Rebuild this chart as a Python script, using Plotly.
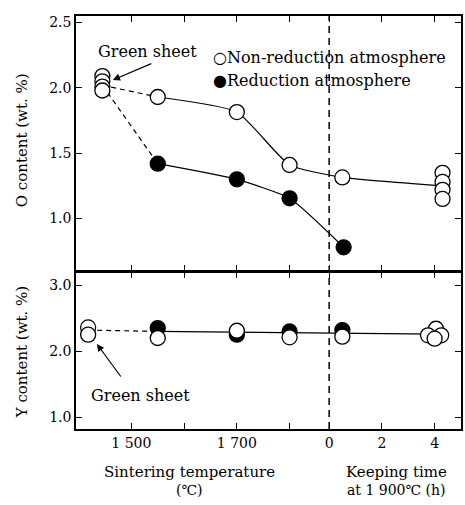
import plotly.graph_objects as go

# ---------------- data ----------------
temp_ticks = [1500, 1600, 1700, 1800]
temp_tick_labels = ["1 500", "", "1 700", ""]
time_ticks = [0, 2, 4]
time_tick_labels = ["0", "2", "4"]

# O content (wt.%)
green_O_temp = 1445
green_O = [2.09, 2.05, 2.01, 1.98]
green_O_link = 2.02
nonred_O_temp = [1550, 1700, 1800]
nonred_O_temp_val = [1.93, 1.815, 1.41]
nonred_O_time = [0.5]
nonred_O_time_val = [1.315]
nonred_O_4h_time = 4.3
nonred_O_4h = [1.35, 1.28, 1.22, 1.15]
nonred_O_4h_line = 1.25
red_O_temp = [1550, 1700, 1800]
red_O_temp_val = [1.42, 1.30, 1.155]
red_O_time = [0.55]
red_O_time_val = [0.78]

# Y content (wt.%)
green_Y_temp = 1418
green_Y = [2.36, 2.25]
green_Y_link = 2.32
nonred_Y_temp = [1550, 1700, 1800]
nonred_Y_temp_val = [2.20, 2.31, 2.21]
nonred_Y_time = [0.5, 4.05, 3.75, 4.25, 4.0]
nonred_Y_time_val = [2.22, 2.34, 2.24, 2.24, 2.19]
red_Y_temp = [1550, 1700, 1800]
red_Y_temp_val = [2.35, 2.25, 2.30]
red_Y_time = [0.5]
red_Y_time_val = [2.32]
Y_line_start = (1550, 2.30)
Y_line_end = (4.0, 2.26)

# ------------- combined x axis: temperature, then keeping time -------------
T0 = 1875      # axis position of 0 h
HS = 50        # axis units per hour
def tpos(h):
    return T0 + HS * h

XR = [1395, 2125]
W, H = 465, 505
ML, MR, MT, MB = 76, 2, 16, 76
PW, PH = W - ML - MR, H - MT - MB

def px(xp):
    return (xp - ML) / PW
def py(yp):
    return (H - MB - yp) / PH

FONT = "DejaVu Serif"
BLACK = "black"
OPEN = dict(symbol="circle", size=15, color="white", line=dict(color=BLACK, width=1.3))
FILL = dict(symbol="circle", size=15, color=BLACK, line=dict(color=BLACK, width=1.3))
LINE = dict(color=BLACK, width=1.2)
DLINE = dict(color=BLACK, width=1.2, dash="5px,4px")

fig = go.Figure()

# ---- top panel (O content) ----
fig.add_trace(go.Scatter(x=[green_O_temp, nonred_O_temp[0]], y=[green_O_link, nonred_O_temp_val[0]],
                         mode="lines", line=DLINE, xaxis="x", yaxis="y"))
fig.add_trace(go.Scatter(x=[green_O_temp, red_O_temp[0]], y=[green_O_link, red_O_temp_val[0]],
                         mode="lines", line=DLINE, xaxis="x", yaxis="y"))
fig.add_trace(go.Scatter(x=nonred_O_temp + [tpos(h) for h in nonred_O_time] + [tpos(nonred_O_4h_time)],
                         y=nonred_O_temp_val + nonred_O_time_val + [nonred_O_4h_line],
                         mode="lines", line=dict(LINE, shape="spline", smoothing=0.5), xaxis="x", yaxis="y"))
fig.add_trace(go.Scatter(x=red_O_temp + [tpos(h) for h in red_O_time],
                         y=red_O_temp_val + red_O_time_val,
                         mode="lines", line=dict(LINE, shape="spline", smoothing=0.5), xaxis="x", yaxis="y"))
fig.add_trace(go.Scatter(x=red_O_temp + [tpos(h) for h in red_O_time], y=red_O_temp_val + red_O_time_val,
                         mode="markers", marker=FILL, xaxis="x", yaxis="y"))
fig.add_trace(go.Scatter(x=[green_O_temp] * len(green_O), y=green_O,
                         mode="markers", marker=OPEN, xaxis="x", yaxis="y"))
fig.add_trace(go.Scatter(x=nonred_O_temp + [tpos(h) for h in nonred_O_time],
                         y=nonred_O_temp_val + nonred_O_time_val,
                         mode="markers", marker=OPEN, xaxis="x", yaxis="y"))
fig.add_trace(go.Scatter(x=[tpos(nonred_O_4h_time)] * len(nonred_O_4h), y=nonred_O_4h,
                         mode="markers", marker=OPEN, xaxis="x", yaxis="y"))

# ---- bottom panel (Y content) ----
fig.add_trace(go.Scatter(x=[green_Y_temp, Y_line_start[0]], y=[green_Y_link, Y_line_start[1]],
                         mode="lines", line=DLINE, xaxis="x2", yaxis="y2"))
fig.add_trace(go.Scatter(x=[Y_line_start[0], tpos(Y_line_end[0])], y=[Y_line_start[1], Y_line_end[1]],
                         mode="lines", line=LINE, xaxis="x2", yaxis="y2"))
fig.add_trace(go.Scatter(x=red_Y_temp + [tpos(h) for h in red_Y_time], y=red_Y_temp_val + red_Y_time_val,
                         mode="markers", marker=FILL, xaxis="x2", yaxis="y2"))
fig.add_trace(go.Scatter(x=[green_Y_temp] * len(green_Y), y=green_Y,
                         mode="markers", marker=OPEN, xaxis="x2", yaxis="y2"))
fig.add_trace(go.Scatter(x=nonred_Y_temp + [tpos(h) for h in nonred_Y_time],
                         y=nonred_Y_temp_val + nonred_Y_time_val,
                         mode="markers", marker=OPEN, xaxis="x2", yaxis="y2"))

tickvals = temp_ticks + [tpos(h) for h in time_ticks]
ticktext = temp_tick_labels + time_tick_labels
axis_common = dict(showline=True, linecolor=BLACK, linewidth=1.5, mirror="ticks",
                   ticks="inside", ticklen=6, tickwidth=1.2, tickcolor=BLACK,
                   showgrid=False, zeroline=False,
                   tickfont=dict(family=FONT, size=14, color=BLACK))

fig.update_layout(
    width=W, height=H, margin=dict(l=ML, r=MR, t=MT, b=MB),
    paper_bgcolor="white", plot_bgcolor="white", showlegend=False,
    font=dict(family=FONT, size=15, color=BLACK),
    xaxis=dict(axis_common, range=XR, domain=[0, 1], anchor="y", tickvals=tickvals,
               ticktext=ticktext, showticklabels=False),
    yaxis=dict(axis_common, range=[0.6, 2.55], domain=[0.383, 1], anchor="x",
               tickvals=[1.0, 1.5, 2.0, 2.5], ticktext=["1.0", "1.5", "2.0", "2.5"]),
    xaxis2=dict(axis_common, range=XR, domain=[0, 1], anchor="y2", tickvals=tickvals,
                ticktext=ticktext),
    yaxis2=dict(axis_common, range=[0.82, 3.2], domain=[0, 0.38], anchor="x2",
                tickvals=[1.0, 2.0, 3.0], ticktext=["1.0", "2.0", "3.0"]),
)

# dashed separator at 0 h
fig.add_shape(type="line", xref="x", yref="paper", x0=tpos(0), x1=tpos(0), y0=0, y1=1,
              line=dict(color=BLACK, width=1.5, dash="7px,5px"))

ann = []
def text(x, y, s, xanchor="center", size=16, angle=0, xref="paper", yref="paper"):
    ann.append(dict(x=x, y=y, xref=xref, yref=yref, text=s, showarrow=False,
                    xanchor=xanchor, yanchor="middle", textangle=angle,
                    font=dict(family=FONT, size=size, color=BLACK)))

# legend-like labels
text(px(212), py(58), "○Non-reduction atmosphere", xanchor="left")
text(px(212), py(81), "●Reduction atmosphere", xanchor="left")
# Green sheet labels
text(px(148), py(51), "Green sheet")
text(px(141), py(395), "Green sheet")
# axis titles
text(px(190), py(472), "Sintering temperature", size=15)
text(px(190), py(490), "(℃)", size=14)
text(px(398), py(472), "Keeping time", size=15)
text(px(398), py(490), "at 1 900℃ (h)", size=14)
text(px(22), py(140), "O content (wt. %)", size=15, angle=-90)
text(px(22), py(352), "Y content (wt. %)", size=15, angle=-90)

# arrows (tail given as pixel offset from the head)
def arrow(hx, hy, tx, ty):
    ann.append(dict(xref="paper", yref="paper", x=px(hx), y=py(hy),
                    axref="pixel", ayref="pixel", ax=tx - hx, ay=ty - hy,
                    text="", showarrow=True, arrowhead=2, arrowsize=1.2,
                    arrowwidth=1.2, arrowcolor=BLACK))
arrow(113, 80, 153, 63)
arrow(97, 344, 122, 378)
fig.update_layout(annotations=ann)

fig.write_html("out.html")
